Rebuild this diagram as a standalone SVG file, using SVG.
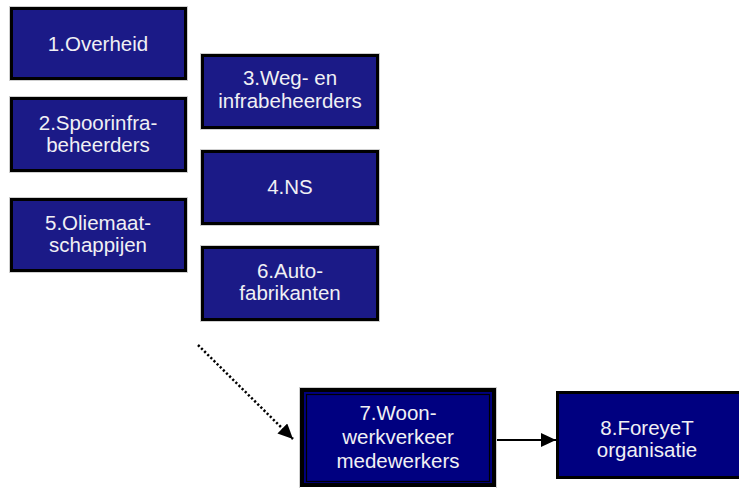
<svg xmlns="http://www.w3.org/2000/svg" width="739" height="488" viewBox="0 0 739 488">
<style>
.top{fill:#1b1a87;stroke:#000;stroke-width:3}
.halo{fill:none;stroke:#cfcfcf;stroke-width:1}
.nav{fill:#000080;stroke:#000}
.t{font-family:"Liberation Sans",Arial,sans-serif;font-size:20.5px;fill:#f0f0f4;text-anchor:middle}
</style>
<defs>
<marker id="ah" markerUnits="userSpaceOnUse" markerWidth="16" markerHeight="16" viewBox="0 0 16 16" refX="15" refY="7" orient="auto">
<path d="M0,0 L15,7 L0,14 Z" fill="#000"/>
</marker>
</defs>
<g id="connectors">
<line x1="198" y1="345" x2="293" y2="439" stroke="#000" stroke-width="2.5" stroke-dasharray="2.2 2.2" marker-end="url(#ah)"/>
<line x1="496" y1="440" x2="556" y2="440" stroke="#000" stroke-width="2" marker-end="url(#ah)"/>
</g>
<g id="n1"><rect class="halo" x="9.5" y="6.5" width="178" height="74"/><rect class="top" x="11.5" y="8.5" width="174" height="70"/><text class="t" x="98" y="51">1.Overheid</text></g>
<g id="n2"><rect class="halo" x="9.5" y="96.5" width="178" height="76"/><rect class="top" x="11.5" y="98.5" width="174" height="72"/><text class="t" x="98" y="130">2.Spoorinfra-</text><text class="t" x="98" y="152">beheerders</text></g>
<g id="n5"><rect class="halo" x="9.5" y="197.5" width="178" height="75"/><rect class="top" x="11.5" y="199.5" width="174" height="71"/><text class="t" x="98" y="230">5.Oliemaat-</text><text class="t" x="98" y="252">schappijen</text></g>
<g id="n3"><rect class="halo" x="200.5" y="53.5" width="179" height="76"/><rect class="top" x="202.5" y="55.5" width="175" height="72"/><text class="t" x="290" y="85">3.Weg- en</text><text class="t" x="290" y="108">infrabeheerders</text></g>
<g id="n4"><rect class="halo" x="200.5" y="149.5" width="179" height="76"/><rect class="top" x="202.5" y="151.5" width="175" height="72"/><text class="t" x="290" y="194">4.NS</text></g>
<g id="n6"><rect class="halo" x="200.5" y="245.5" width="179" height="76"/><rect class="top" x="202.5" y="247.5" width="175" height="72"/><text class="t" x="290" y="278">6.Auto-</text><text class="t" x="290" y="300">fabrikanten</text></g>
<g id="n7"><rect class="halo" x="299.5" y="387.5" width="197" height="101"/><rect class="nav" stroke-width="4" x="302" y="390" width="192" height="95"/><rect fill="none" stroke="#000" stroke-width="1.2" x="306.5" y="394.5" width="183" height="87"/><text class="t" x="398" y="420">7.Woon-</text><text class="t" x="398" y="444">werkverkeer</text><text class="t" x="398" y="468">medewerkers</text></g>
<g id="n8"><rect class="nav" stroke-width="3" x="557.5" y="392.5" width="186" height="85"/><text class="t" x="647" y="435">8.ForeyeT</text><text class="t" x="647" y="457">organisatie</text></g>
</svg>
